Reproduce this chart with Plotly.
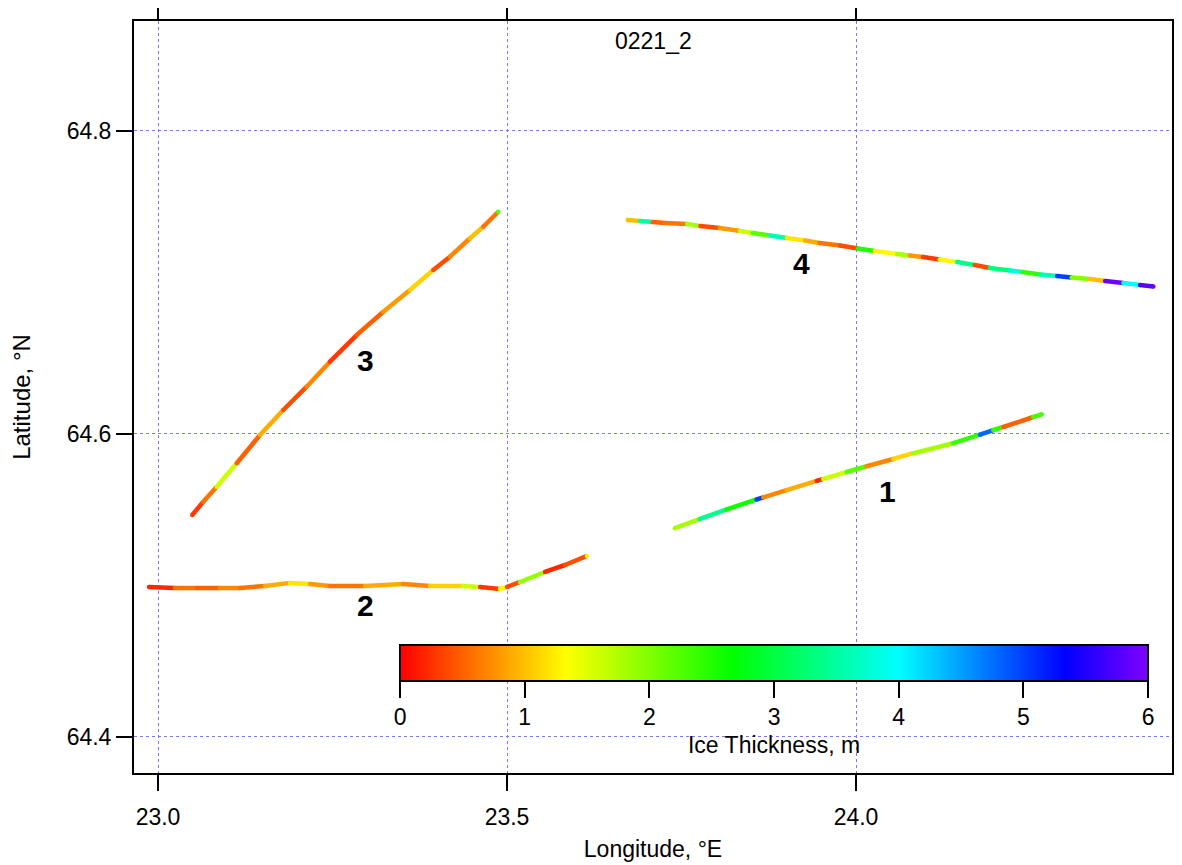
import plotly.graph_objects as go
from plotly.colors import sample_colorscale

# ---------------- data ----------------
# Track 1
lon1 = [23.7407, 23.7765, 23.8148, 23.8577, 23.8672, 23.9007, 23.9437, 23.9531, 23.9867,
        24.0153, 24.0534, 24.0821, 24.1394, 24.1777, 24.1967, 24.2110, 24.2540, 24.2660]
lat1 = [64.5378, 64.5439, 64.5502, 64.5568, 64.5582, 64.5629, 64.5690, 64.5703, 64.5749,
        64.5787, 64.5835, 64.5873, 64.5939, 64.5995, 64.6026, 64.6046, 64.6112, 64.6130]
thk1 = [1.8, 3.4, 2.6, 5.0, 0.7, 0.9, 0.2, 1.6, 2.2,
        0.7, 1.1, 1.8, 2.4, 4.8, 2.4, 0.5, 2.3, 2.3]

# Track 2
lon2 = [22.9871, 23.0244, 23.0559, 23.0888, 23.1175, 23.1533, 23.1891, 23.2178, 23.2464, 23.2966,
        23.3510, 23.3897, 23.4370, 23.4613, 23.4900, 23.5000, 23.5186, 23.5544, 23.5831, 23.6146]
lat2 = [64.4990, 64.4983, 64.4983, 64.4983, 64.4983, 64.4997, 64.5017, 64.5010, 64.4997, 64.4997,
        64.5010, 64.4997, 64.4997, 64.4990, 64.4977, 64.4990, 64.5023, 64.5089, 64.5135, 64.5195]
thk2 = [0.2, 0.6, 0.5, 0.7, 0.6, 0.9, 1.2, 0.8, 0.6, 0.9,
        0.7, 1.1, 1.6, 0.3, 1.3, 0.4, 1.9, 0.2, 0.4, 1.3]

# Track 3
lon3 = [23.0491, 23.0649, 23.0841, 23.1128, 23.1461, 23.1795, 23.2130, 23.2464,
        23.2847, 23.3228, 23.3610, 23.3944, 23.4183, 23.4470, 23.4660, 23.4875]
lat3 = [64.5465, 64.5553, 64.5652, 64.5807, 64.5993, 64.6158, 64.6312, 64.6477,
        64.6653, 64.6807, 64.6950, 64.7083, 64.7170, 64.7292, 64.7368, 64.7467]
thk3 = [0.3, 0.6, 1.6, 0.5, 0.9, 0.4, 0.7, 0.3,
        0.5, 0.8, 1.1, 0.4, 0.7, 1.0, 0.6, 2.2]

# Track 4
lon4 = [23.673, 23.691, 23.709, 23.726, 23.758, 23.777, 23.805, 23.834, 23.852, 23.877, 23.901,
        23.927, 23.948, 23.977, 24.003, 24.027, 24.059, 24.077, 24.096, 24.120, 24.145, 24.170,
        24.192, 24.221, 24.239, 24.264, 24.288, 24.309, 24.335, 24.357, 24.383, 24.407, 24.426]
lat4 = [64.7413, 64.7406, 64.7399, 64.7393, 64.7386, 64.7373, 64.7360, 64.7340, 64.7327, 64.7310, 64.7294,
        64.7277, 64.7261, 64.7244, 64.7224, 64.7208, 64.7188, 64.7178, 64.7168, 64.7152, 64.7135, 64.7115,
        64.7096, 64.7079, 64.7069, 64.7053, 64.7043, 64.7033, 64.7023, 64.7010, 64.6997, 64.6983, 64.6974]
thk4 = [1.0, 3.5, 0.5, 0.6, 1.8, 0.4, 0.8, 1.6, 2.2, 3.6, 1.2,
        0.9, 0.6, 0.4, 2.5, 1.3, 1.8, 0.8, 0.3, 1.3, 3.4, 0.4,
        3.3, 3.8, 2.4, 3.6, 5.0, 2.0, 1.0, 5.9, 4.0, 5.8, 5.9]

track_labels = ["1", "2", "3", "4"]
label_lon = [24.0444, 23.2966, 23.2966, 23.9226]
label_lat = [64.5617, 64.4871, 64.6488, 64.7122]

x_ticks = [23.0, 23.5, 24.0]
y_ticks = [64.4, 64.6, 64.8]
cbar_ticks = [0, 1, 2, 3, 4, 5, 6]
title_text = "0221_2"

# ---------------- styling ----------------
CMIN, CMAX = 0.0, 6.0
COLORSCALE = [[0.0, "rgb(255,0,0)"], [0.2222, "rgb(255,255,0)"], [0.4444, "rgb(0,255,0)"],
              [0.6667, "rgb(0,255,255)"], [0.8889, "rgb(0,0,255)"], [1.0, "rgb(128,0,255)"]]
FONT = "Liberation Sans, Arial, sans-serif"
GRID = "rgb(120,120,255)"
FS = 23

fig = go.Figure()

tracks = [(lon1, lat1, thk1), (lon2, lat2, thk2), (lon3, lat3, thk3), (lon4, lat4, thk4)]
for lon, lat, thk in tracks:
    for i in range(len(lon) - 1):
        c = sample_colorscale(COLORSCALE, [(thk[i] - CMIN) / (CMAX - CMIN)])[0]
        fig.add_trace(go.Scatter(x=[lon[i], lon[i + 1]], y=[lat[i], lat[i + 1]], mode="lines",
                                 line=dict(color=c, width=4.5), hoverinfo="skip", showlegend=False))

# markers at sample points (also carries colorbar)
all_lon = lon1 + lon2 + lon3 + lon4
all_lat = lat1 + lat2 + lat3 + lat4
all_thk = thk1 + thk2 + thk3 + thk4
fig.add_trace(go.Scatter(
    x=all_lon, y=all_lat, mode="markers", showlegend=False,
    marker=dict(size=4.5, color=all_thk, colorscale=COLORSCALE, cmin=CMIN, cmax=CMAX,
                line=dict(width=0),
                colorbar=dict(orientation="h", x=0.6166, xanchor="center", y=0.1702, yanchor="top",
                              len=0.7206, lenmode="fraction", thickness=36, xpad=0, ypad=0,
                              outlinewidth=2, outlinecolor="black",
                              tickvals=cbar_ticks, ticks="outside", ticklen=16, tickwidth=2,
                              tickcolor="black",
                              tickfont=dict(family=FONT, size=FS, color="black"),
                              title=dict(text="Ice Thickness, m", side="bottom",
                                         font=dict(family=FONT, size=FS, color="black"))))))

for t, x, y in zip(track_labels, label_lon, label_lat):
    fig.add_annotation(x=x, y=y, text="<b>%s</b>" % t, showarrow=False,
                       font=dict(family=FONT, size=30, color="black"))

fig.add_annotation(x=0.5, y=0.974, xref="paper", yref="paper", xanchor="center", yanchor="middle",
                   text=title_text, showarrow=False,
                   font=dict(family=FONT, size=FS, color="black"))

axis_common = dict(showline=True, linewidth=2, linecolor="black", mirror="allticks",
                   ticks="outside", ticklen=16, tickwidth=2, tickcolor="black",
                   showgrid=True, gridcolor=GRID, gridwidth=1, griddash="dot",
                   zeroline=False, tickformat=".1f", automargin=False,
                   tickfont=dict(family=FONT, size=FS, color="black"))

fig.update_xaxes(range=[22.9656, 24.4527], tickvals=x_ticks, ticklabelstandoff=6,
                 title=dict(text="Longitude, °E", font=dict(family=FONT, size=FS, color="black"),
                            standoff=12),
                 **axis_common)
fig.update_yaxes(range=[64.3762, 64.8726], tickvals=y_ticks,
                 title=dict(text="Latitude, °N", font=dict(family=FONT, size=24, color="black"),
                            standoff=38),
                 **axis_common)

# page body has an 8px default margin; the figure is sized so that it fills the window
fig.update_layout(width=1174, height=857, margin=dict(l=126, r=10, t=13, b=92, autoexpand=False),
                  plot_bgcolor="white", paper_bgcolor="white",
                  font=dict(family=FONT, size=FS, color="black"))

fig.write_html("out.html")
